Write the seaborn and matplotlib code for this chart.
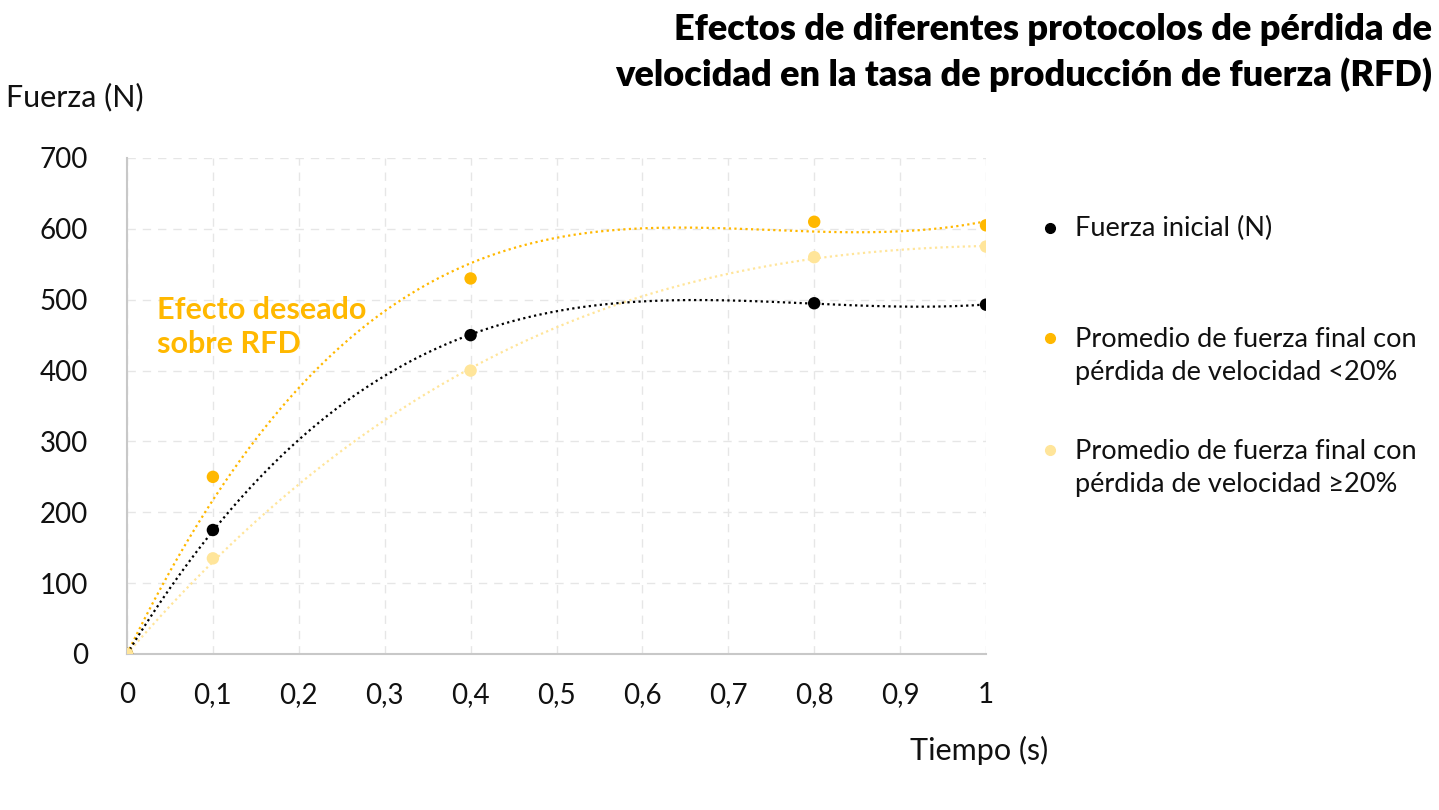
import numpy as np
import pandas as pd
import matplotlib
matplotlib.use("Agg")
import matplotlib.pyplot as plt
import seaborn as sns
from matplotlib.lines import Line2D

# ---- data ----
tiempo = [0, 0.1, 0.4, 0.8, 1.0]
fuerza_inicial = [0, 175, 450, 495, 493]
fuerza_menor20 = [0, 250, 530, 610, 605]
fuerza_mayor20 = [0, 135, 400, 560, 575]
series_labels = ["Fuerza inicial (N)",
                 "Promedio de fuerza final con\npérdida de velocidad <20%",
                 "Promedio de fuerza final con\npérdida de velocidad ≥20%"]
x_ticks = [0, 0.1, 0.2, 0.3, 0.4, 0.5, 0.6, 0.7, 0.8, 0.9, 1.0]
y_ticks = [0, 100, 200, 300, 400, 500, 600, 700]
colors = ["#000000", "#FFB800", "#FFE59A"]

sns.set_theme(style="white")
plt.rcParams['font.family'] = ['Lato', 'DejaVu Sans']

fig = plt.figure(figsize=(14.39, 8.10), dpi=100)
ax = fig.add_axes([127/1439, 1-654/810, (986-127)/1439, (654-158)/810])

df = pd.DataFrame({
    "t": tiempo * 3,
    "f": fuerza_inicial + fuerza_menor20 + fuerza_mayor20,
    "s": [series_labels[0]] * 5 + [series_labels[1]] * 5 + [series_labels[2]] * 5,
})

# cubic trendlines through origin, fitted from the data
xs = np.linspace(0, 1, 300)
t = np.array(tiempo)
A = np.vstack([t, t**2, t**3]).T
for vals, c in zip([fuerza_menor20, fuerza_mayor20, fuerza_inicial], [colors[1], colors[2], colors[0]]):
    coef, *_ = np.linalg.lstsq(A, np.array(vals, float), rcond=None)
    ys = coef[0]*xs + coef[1]*xs**2 + coef[2]*xs**3
    sns.lineplot(x=xs, y=ys, ax=ax, color=c, linestyle=(0, (1, 1.5)), linewidth=1.6, zorder=2)

sns.scatterplot(data=df, x="t", y="f", hue="s", palette=colors, ax=ax,
                s=80, edgecolor="none", legend=False, zorder=3)

ax.set_xlim(0, 1)
ax.set_ylim(0, 700)
ax.set_xticks(x_ticks)
ax.set_xticklabels([("%g" % v).replace(".", ",") for v in x_ticks])
ax.set_yticks(y_ticks)
ax.set_yticklabels([str(v) for v in y_ticks])
ax.tick_params(axis='both', labelsize=20, colors="#111111", length=0)
ax.tick_params(axis='x', pad=20)
ax.tick_params(axis='y', pad=28)
ax.grid(True, color="#E6E6E6", linestyle=(0, (6, 5)), linewidth=1)
ax.set_axisbelow(True)
for sp in ["top", "right"]:
    ax.spines[sp].set_visible(False)
for sp in ["left", "bottom"]:
    ax.spines[sp].set_color("#C8C8C8")
    ax.spines[sp].set_linewidth(1.5)
ax.set_xlabel("")
ax.set_ylabel("")

fig.text(6/1439, 1-97/810, "Fuerza (N)", fontsize=22, color="#111111", va="center", ha="left")
fig.text(1048/1439, 1-750/810, "Tiempo (s)", fontsize=22, color="#111111", va="center", ha="right")

fig.text(1432/1439, 1-30/810, "Efectos de diferentes protocolos de pérdida de",
         fontsize=26, fontweight="heavy", ha="right", va="center", color="#000000")
fig.text(1432/1439, 1-75/810, "velocidad en la tasa de producción de fuerza (RFD)",
         fontsize=26, fontweight="heavy", ha="right", va="center", color="#000000")

ax.text(0.035, 461, "Efecto deseado\nsobre RFD", fontsize=22, fontweight="bold",
        color="#FFB800", ha="left", va="center", linespacing=1.25)

# legend
ly = [228, 356, 468]
for lab, c, y in zip(series_labels, colors, ly):
    fig.text(1075/1439, 1-y/810, lab, fontsize=19.5, color="#111111", ha="left", va="center",
             linespacing=1.4)
    yy = y - 18 if "\n" in lab else y
    fig.add_artist(Line2D([1050/1439], [1-yy/810], marker="o", markersize=7,
                          color=c, linestyle="none", transform=fig.transFigure))

fig.savefig("out.png", dpi=100, facecolor="white")
